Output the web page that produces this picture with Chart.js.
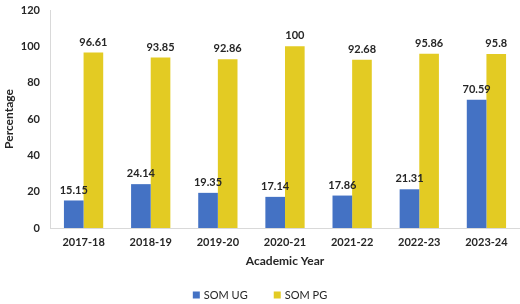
<!DOCTYPE html>
<html>
<head>
<meta charset="utf-8">
<script src="https://cdn.jsdelivr.net/npm/chart.js@4"></script>
<style>
  html, body { margin: 0; padding: 0; background: #fff; }
</style>
</head>
<body>
<canvas id="chart" width="520" height="304"></canvas>
<script>
const years = ['2017-18', '2018-19', '2019-20', '2020-21', '2021-22', '2022-23', '2023-24'];
const somUG = [15.15, 24.14, 19.35, 17.14, 17.86, 21.31, 70.59];
const somPG = [96.61, 93.85, 92.86, 100, 92.68, 95.86, 95.8];
const yTicks = [0, 20, 40, 60, 80, 100, 120];

const fontFamily = 'Lato, "Open Sans", sans-serif';
const textColor = '#262626';

// labels above each bar
const barLabels = {
    id: 'barLabels',
    afterDatasetsDraw(chart) {
        const ctx = chart.ctx;
        ctx.save();
        ctx.font = 'bold 11px ' + fontFamily;
        ctx.fillStyle = textColor;
        ctx.textAlign = 'center';
        ctx.textBaseline = 'bottom';
        chart.data.datasets.forEach((ds, i) => {
            chart.getDatasetMeta(i).data.forEach((bar, j) => {
                ctx.fillText(String(ds.data[j]), bar.x, bar.y - 5);
            });
        });
        ctx.restore();
    }
};

// simple legend at the bottom, centred on the canvas
const bottomLegend = {
    id: 'bottomLegend',
    afterDraw(chart) {
        const ctx = chart.ctx;
        const box = 7, gap = 4, itemGap = 26, y = 295;
        ctx.save();
        ctx.font = '11px ' + fontFamily;
        ctx.textBaseline = 'middle';
        const items = chart.data.datasets.map(ds => ({ text: ds.label, color: ds.backgroundColor, w: ctx.measureText(ds.label).width }));
        let total = items.reduce((s, it) => s + box + gap + it.w, 0) + itemGap * (items.length - 1);
        let x = chart.width / 2 - total / 2;
        items.forEach(it => {
            ctx.fillStyle = it.color;
            ctx.fillRect(x, y - box / 2, box, box);
            ctx.fillStyle = textColor;
            ctx.fillText(it.text, x + box + gap, y);
            x += box + gap + it.w + itemGap;
        });
        ctx.restore();
    }
};

new Chart(document.getElementById('chart'), {
    type: 'bar',
    data: {
        labels: years,
        datasets: [
            { label: 'SOM UG', data: somUG, backgroundColor: '#4472C4' },
            { label: 'SOM PG', data: somPG, backgroundColor: '#E3CB23' }
        ]
    },
    options: {
        responsive: false,
        animation: false,
        layout: { padding: { top: 10, right: -8, bottom: 0, left: 0 } },
        datasets: { bar: { categoryPercentage: 0.585, barPercentage: 1 } },
        plugins: {
            legend: { display: false },
            tooltip: { enabled: false }
        },
        scales: {
            x: {
                afterFit(axis) {
                    axis.height = 76;
                    axis.paddingLeft = 0;
                    axis.paddingRight = 0;
                },
                grid: { display: false, drawTicks: false },
                border: { color: '#d9d9d9' },
                ticks: { font: { family: fontFamily, size: 11, weight: 'bold' }, color: textColor, padding: 8 },
                title: { display: true, text: 'Academic Year', font: { family: fontFamily, size: 12, weight: 'bold' }, color: textColor, padding: { top: 0, bottom: 36 } }
            },
            y: {
                min: 0,
                max: 120,
                afterBuildTicks(axis) { axis.ticks = yTicks.map(v => ({ value: v })); },
                afterFit(axis) {
                    axis.width = 50;
                    axis.paddingTop = 0;
                    axis.paddingBottom = 0;
                },
                grid: { display: false, drawTicks: false },
                border: { color: '#d9d9d9' },
                ticks: { font: { family: fontFamily, size: 11, weight: 'bold' }, color: textColor, padding: 10 },
                title: { display: true, text: 'Percentage', font: { family: fontFamily, size: 12, weight: 'bold' }, color: textColor, padding: 2 }
            }
        }
    },
    plugins: [barLabels, bottomLegend]
});
</script>
</body>
</html>
